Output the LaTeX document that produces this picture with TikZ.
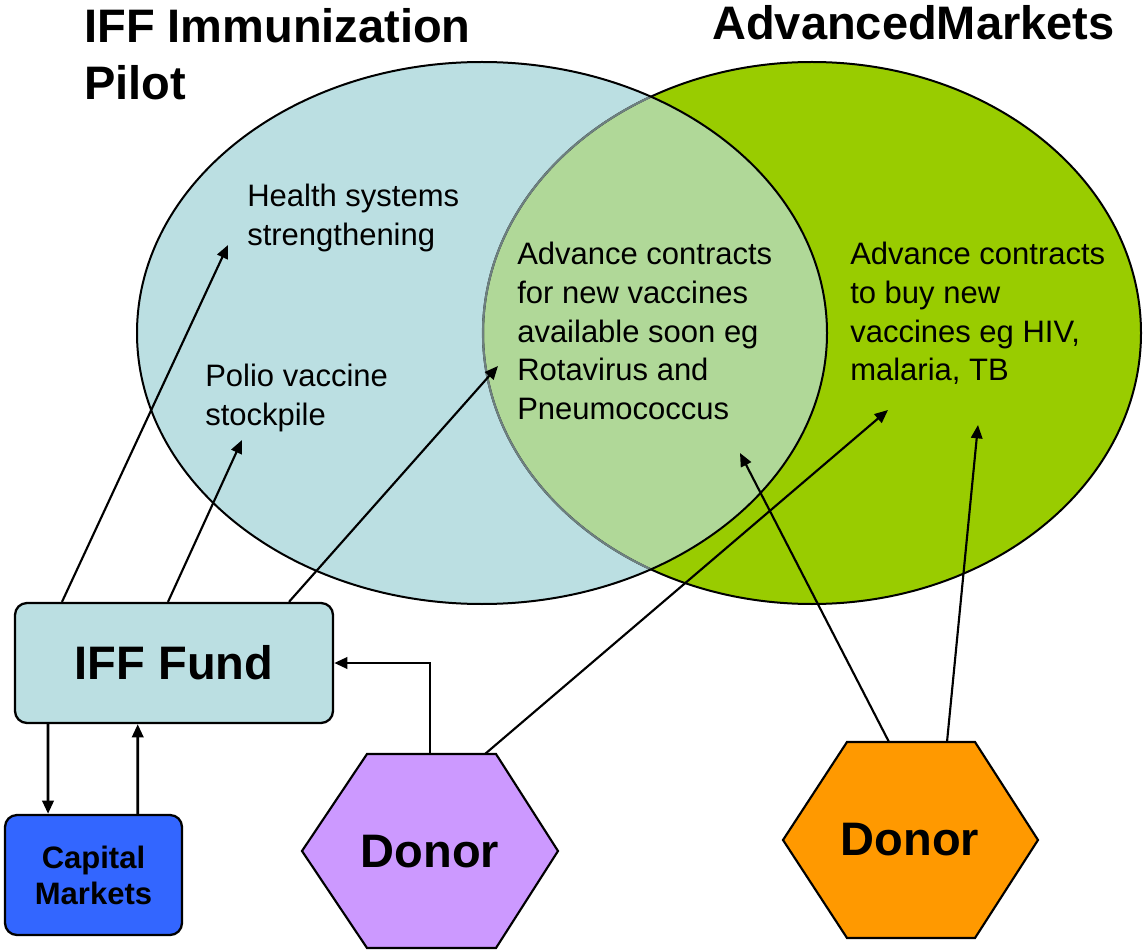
\documentclass[tikz,border=0pt]{standalone}
\usepackage{fontspec}
\setmainfont{Liberation Sans}
\usetikzlibrary{arrows.meta}

\definecolor{iffblue}{RGB}{187,223,226}
\definecolor{amgreen}{RGB}{153,204,0}
\definecolor{overlapgreen}{RGB}{176,216,152}
\definecolor{capblue}{RGB}{51,102,255}
\definecolor{donorpurple}{RGB}{204,153,255}
\definecolor{donororange}{RGB}{255,153,0}
\definecolor{seamgray}{RGB}{110,128,128}

\begin{document}
\begin{tikzpicture}[
    x=0.75pt, y=-0.75pt,
    rim/.style={draw=black, line width=1.5pt},
    titletext/.style={anchor=base west, inner sep=0pt,
      font=\bfseries\fontsize{35.25pt}{42.75pt}\selectfont},
    bodytext/.style={anchor=base west, inner sep=0pt,
      font=\fontsize{23.25pt}{28.9pt}\selectfont},
    fundbox/.style={draw=black, line width=1.7pt, fill=iffblue,
      rounded corners=9pt, minimum width=238.5pt, minimum height=90pt,
      inner sep=0pt, font=\bfseries\fontsize{35.25pt}{42pt}\selectfont},
    capbox/.style={draw=black, line width=1.7pt, fill=capblue,
      rounded corners=9pt, minimum width=132.75pt, minimum height=90pt,
      inner sep=0pt, align=center,
      font=\bfseries\fontsize{23.25pt}{27pt}\selectfont},
    hexline/.style={draw=black, line width=1.6pt, line join=miter},
    donortext/.style={inner sep=0pt,
      font=\bfseries\fontsize{35.25pt}{42pt}\selectfont},
    flowline/.style={draw=black, line width=2.2pt,
      -{Triangle[length=10pt, width=8.5pt]}},
    linkline/.style={draw=black, line width=1.6pt,
      -{Triangle[length=10pt, width=8.5pt]}},
]
\useasboundingbox (0,0) rectangle (1143,952);

% --- the two overlapping programme areas ---
\fill[iffblue] (482,333) ellipse [x radius=345, y radius=271];
\fill[amgreen] (812,333) ellipse [x radius=329, y radius=271];
\begin{scope}
  \clip (482,333) ellipse [x radius=345, y radius=271];
  \fill[overlapgreen] (812,333) ellipse [x radius=329, y radius=271];
\end{scope}
\draw[rim] (812,333) ellipse [x radius=329, y radius=271];
\begin{scope}
  \clip (482,333) ellipse [x radius=345, y radius=271];
  \draw[draw=seamgray, line width=1.6pt] (812,333) ellipse [x radius=329, y radius=271];
\end{scope}
\draw[rim] (482,333) ellipse [x radius=345, y radius=271];

% --- headings ---
\node[titletext] (iffTitle) at (84,43)
  {\vtop{\hbox{IFF Immunization}\hbox{Pilot}}};
\node[titletext] (amTitle) at (712,40) {AdvancedMarkets};

% --- texts inside the areas ---
\node[bodytext] (health) at (247,207)
  {\vtop{\hbox{Health systems}\hbox{strengthening}}};
\node[bodytext] (polio) at (205,387)
  {\vtop{\hbox{Polio vaccine}\hbox{stockpile}}};
\node[bodytext] (soon) at (517,265)
  {\vtop{\hbox{Advance contracts}\hbox{for new vaccines}\hbox{available soon eg}\hbox{Rotavirus and}\hbox{Pneumococcus}}};
\node[bodytext] (future) at (850,265)
  {\vtop{\hbox{Advance contracts}\hbox{to buy new}\hbox{vaccines eg HIV,}\hbox{malaria, TB}}};

% --- arrow targets inside the areas ---
\coordinate (tipHealth) at (228,245);
\coordinate (tipPolio) at (242,440);
\coordinate (tipSoonA) at (498,366);
\coordinate (tipSoonB) at (740,453);
\coordinate (tipFutureA) at (888,410);
\coordinate (tipFutureB) at (978,425);

% --- fund and markets ---
\node[fundbox] (fund) at (174,663) {IFF Fund};
\node[capbox] (capital) at (93.5,875) {Capital\\Markets};

% --- donors ---
\draw[hexline, fill=donorpurple] (367,754) -- (496,754) -- (558,851)
  -- (496,948) -- (367,948) -- (302,851) -- cycle;
\node[donortext] (donorA) at (430,852) {Donor};
\coordinate (donorAtopL) at (430,754);
\coordinate (donorAtopR) at (485,754);

\draw[hexline, fill=donororange] (847,742) -- (975,742) -- (1038,840)
  -- (975,938) -- (847,938) -- (783,840) -- cycle;
\node[donortext] (donorB) at (910,840) {Donor};
\coordinate (donorBtopL) at (889,742);
\coordinate (donorBtopR) at (947,742);

% --- connectors ---
\draw[linkline] ([xshift=-84pt]fund.north) -- (tipHealth);
\draw[linkline] ([xshift=-4.5pt]fund.north) -- (tipPolio);
\draw[linkline] ([xshift=86.25pt]fund.north) -- (tipSoonA);
\draw[flowline] (donorAtopL) |- (fund.east);
\draw[linkline] (donorAtopR) -- (tipFutureA);
\draw[linkline] (donorBtopL) -- (tipSoonB);
\draw[linkline] (donorBtopR) -- (tipFutureB);
\draw[flowline] ([xshift=-94.5pt]fund.south) -- ([xshift=-34.1pt]capital.north);
\draw[flowline] ([xshift=33.2pt]capital.north) -- ([xshift=-27.2pt]fund.south);
\end{tikzpicture}
\end{document}
